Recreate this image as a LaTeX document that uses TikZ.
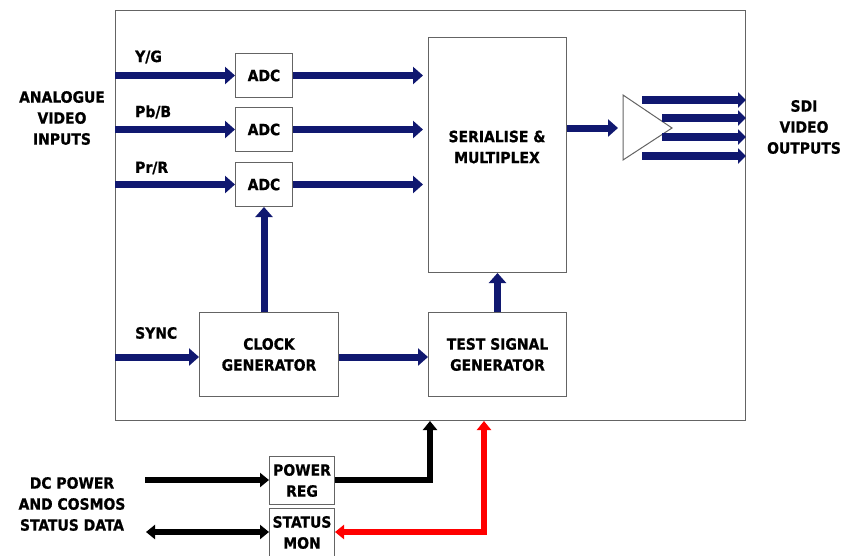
\documentclass[tikz,border=0pt]{standalone}
\usepackage{fontspec}
\setmainfont{DejaVu Sans Condensed}[BoldFeatures={FakeBold=0.8}]
\usetikzlibrary{arrows.meta}
\definecolor{navy}{RGB}{16,24,112}
\definecolor{boxgray}{RGB}{100,100,100}
\definecolor{sigred}{RGB}{255,0,0}

\tikzset{
  lbl/.style={font=\fontsize{15.5}{21}\selectfont\bfseries, align=center, inner sep=0pt},
  blk/.style={draw=boxgray, line width=1pt, fill=white, inner sep=0pt, anchor=north west,
              font=\fontsize{15.5}{21}\selectfont\bfseries, align=center},
  bus/.style={navy, line width=7pt, -{Triangle[width=17pt,length=10pt]}},
  outbus/.style={navy, line width=8pt, -{Triangle[width=15pt,length=8pt]}},
  pwr/.style={line width=6pt, miter limit=10, >={Triangle[width=14pt,length=9pt]}},
}

\begin{document}
\begin{tikzpicture}[x=1pt,y=-1pt]
\useasboundingbox (0,0) rectangle (842,555);

% enclosure
\node[blk, minimum width=630pt, minimum height=410pt] (main) at (115,10) {};

% converters and processing blocks
\node[blk, minimum width=57pt, minimum height=44pt] (adc1) at (235,53) {ADC};
\node[blk, minimum width=57pt, minimum height=44pt] (adc2) at (235,107) {ADC};
\node[blk, minimum width=57pt, minimum height=44pt] (adc3) at (235,162) {ADC};
\node[blk, minimum width=138pt, minimum height=235pt] (ser) at (428,37) {};
\node[lbl] (sertxt) at (497,147) {SERIALISE \&\\MULTIPLEX};
\node[blk, minimum width=139pt, minimum height=84pt] (clk) at (199,312) {CLOCK\\GENERATOR};
\node[blk, minimum width=138pt, minimum height=84pt] (tsg) at (428,312) {TEST SIGNAL\\GENERATOR};

% input labels
\node[lbl, anchor=west] (yg) at (135,57) {Y/G};
\node[lbl, anchor=west] (pbb) at (135,112) {Pb/B};
\node[lbl, anchor=west] (prr) at (135,168) {Pr/R};
\node[lbl, anchor=west] (sync) at (135,333) {SYNC};
\node[lbl] (ain) at (62,118) {ANALOGUE\\VIDEO\\INPUTS};
\node[lbl] (sdi) at (804,127) {SDI\\VIDEO\\OUTPUTS};

% video path
\coordinate (serin) at (423,0);
\foreach \a in {adc1,adc2,adc3}{
  \draw[bus] (main.west |- \a.west) -- (\a.west);
  \draw[bus] (\a.east) -- (serin |- \a.east);
}
\coordinate (syncy) at (0,357);
\draw[bus] (adc3.south |- clk.north) -- (adc3.south);
\draw[bus] (main.west |- syncy) -- (clk.west |- syncy);
\draw[bus] (clk.east |- syncy) -- (tsg.west |- syncy);
\draw[bus] (tsg.north) -- (ser.south);

% output amplifier
\coordinate (ampin) at (618,128);
\draw[boxgray, line width=1pt, fill=white] (623,95) -- (672,128) -- (623,160) -- cycle;
\draw[bus] (ser.east |- ampin) -- (ampin);
\coordinate (o1) at (642,100);
\coordinate (o2) at (662,118);
\coordinate (o3) at (662,137);
\coordinate (o4) at (642,156);
\foreach \o in {o1,o2,o3,o4}
  \draw[outbus] (\o) -- (\o -| main.east);

% power and status
\node[blk, minimum width=65pt, minimum height=48pt] (preg) at (269,456) {POWER\\REG};
\node[blk, minimum width=65pt, minimum height=48pt] (smon) at (269,508) {STATUS\\MON};
\node[lbl] (dc) at (72,504) {DC POWER\\AND COSMOS\\STATUS DATA};

\coordinate (dcin) at (145,480);
\coordinate (dcio) at (146,532);
\coordinate (pwrup) at (430,480);
\coordinate (statup) at (484,532);

\draw[pwr, black, ->] (dcin) -- (preg.west |- dcin);
\draw[pwr, black, <->] (dcio) -- (smon.west |- dcio);
\draw[pwr, black, ->] (preg.east |- pwrup) -- (pwrup) -- (pwrup |- main.south);
\draw[pwr, sigred, <->] (statup |- main.south) -- (statup) -- (smon.east |- statup);
\end{tikzpicture}
\end{document}
